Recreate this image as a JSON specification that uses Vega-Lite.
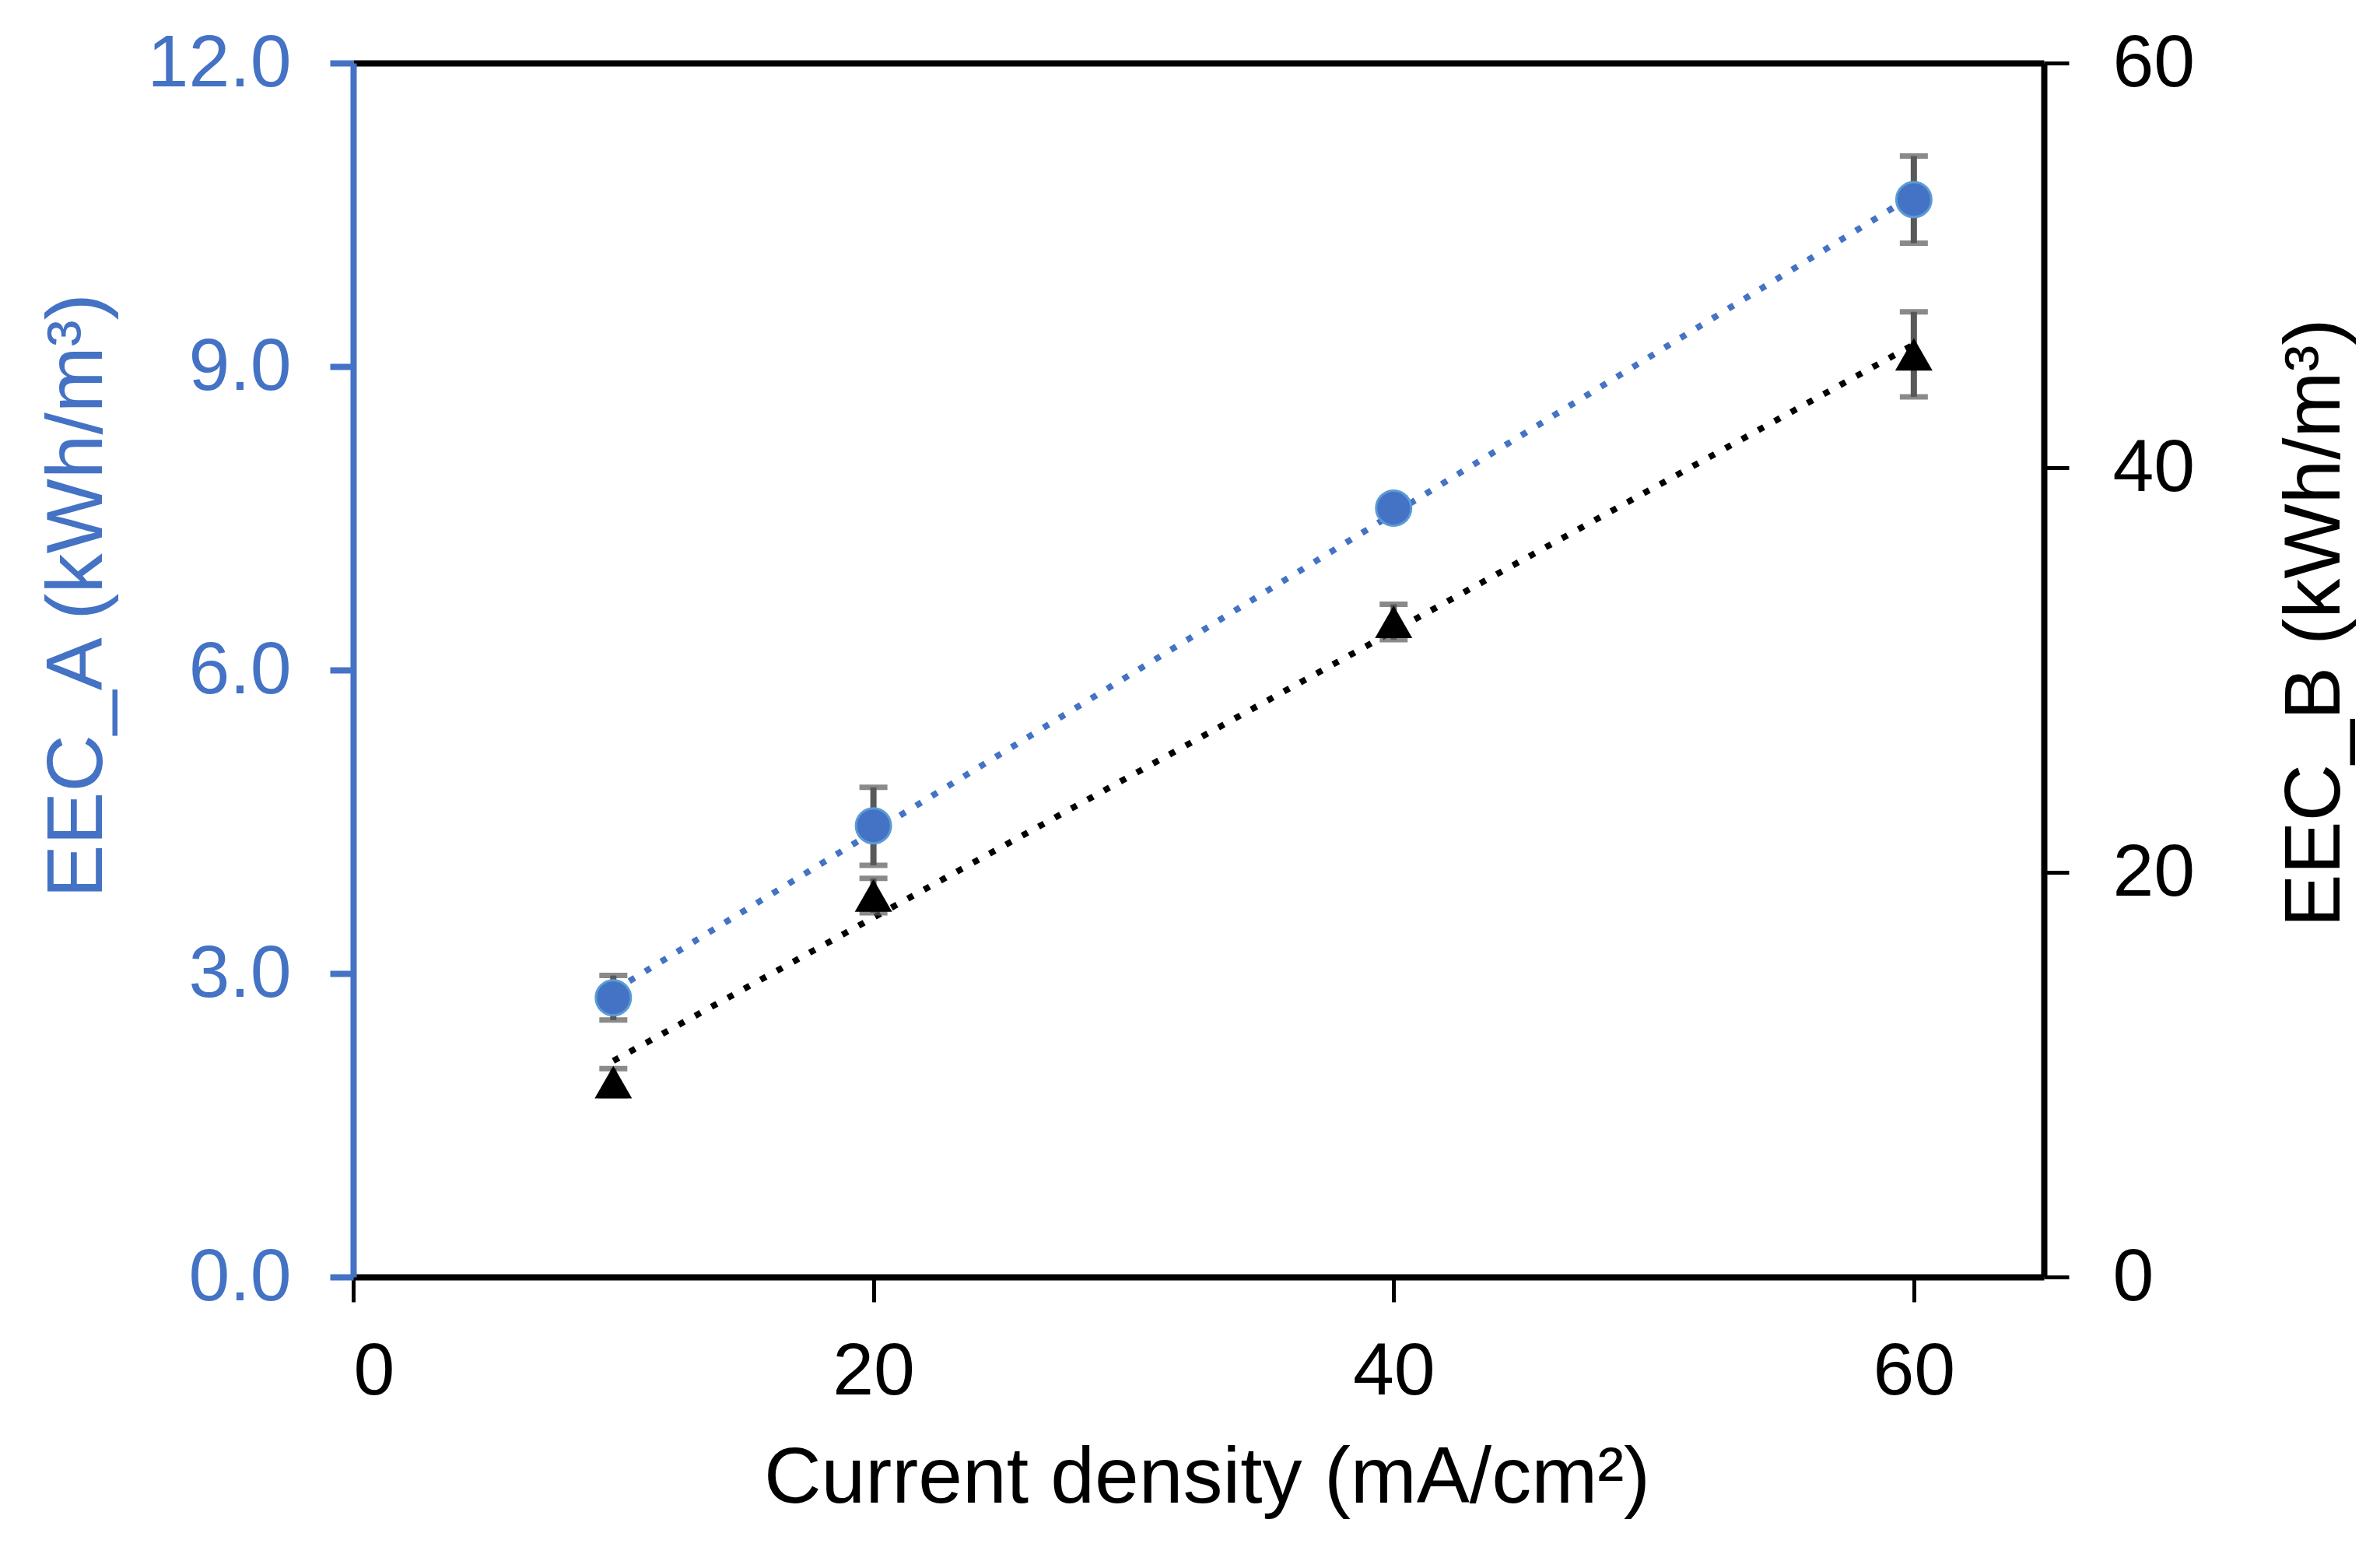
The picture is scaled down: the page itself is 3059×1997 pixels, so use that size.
{
  "$schema": "https://vega.github.io/schema/vega-lite/v6.json",
  "width": 2173,
  "height": 1560,
  "autosize": {"type": "none"},
  "padding": {"left": 454, "top": 81, "right": 432, "bottom": 356},
  "background": "white",
  "config": {
    "view": {"stroke": null},
    "font": "Liberation Sans",
    "axis": {"grid": false, "labelFont": "Liberation Sans", "titleFont": "Liberation Sans", "titleFontWeight": "normal", "labelFontSize": 95, "titleFontSize": 102, "labelLimit": 0, "titleLimit": 0}
  },
  "data": {
    "values": [
      {"I": 10, "A": 2.76, "A_lo": 2.54, "A_hi": 2.98, "B": 9.63, "B_lo": 8.96, "B_hi": 10.3},
      {"I": 20, "A": 4.46, "A_lo": 4.07, "A_hi": 4.84, "B": 18.85, "B_lo": 18.0, "B_hi": 19.7},
      {"I": 40, "A": 7.6, "A_lo": 7.5, "A_hi": 7.7, "B": 32.38, "B_lo": 31.5, "B_hi": 33.25},
      {"I": 60, "A": 10.65, "A_lo": 10.22, "A_hi": 11.08, "B": 45.6, "B_lo": 43.5, "B_hi": 47.7}
    ]
  },
  "layer": [
    {
      "encoding": {
        "x": {
          "field": "I", "type": "quantitative",
          "scale": {"domain": [0, 65], "nice": false, "zero": false},
          "axis": {
            "orient": "bottom",
            "values": [0, 20, 40, 60], "title": "Current density (mA/cm²)",
            "domainColor": "black", "domainWidth": 8,
            "tickColor": "black", "tickWidth": 5, "tickSize": 32,
            "labelColor": "black", "labelPadding": 43,
            "titleColor": "black", "titleBaseline": "alphabetic", "titleY": 289, "titleX": 1097
          }
        },
        "y": {
          "field": "A", "type": "quantitative",
          "scale": {"domain": [0, 12], "nice": false, "zero": true},
          "axis": {
            "orient": "left", "values": [0, 3, 6, 9, 12], "format": ".1f",
            "title": "EEC_A (kWh/m³)",
            "domainColor": "#4472C4", "domainWidth": 8,
            "tickColor": "#4472C4", "tickWidth": 8, "tickSize": 30,
            "labelColor": "#4472C4", "labelPadding": 50,
            "titleColor": "#4472C4", "titleAngle": 270, "titleBaseline": "alphabetic",
            "titleX": -324, "titleY": 684
          }
        }
      },
      "layer": [
        {
          "transform": [{"regression": "A", "on": "I", "extent": [10, 60]}],
          "mark": {"type": "line", "color": "#4472C4", "strokeWidth": 8, "strokeDash": [8, 16], "strokeCap": "butt"}
        },
        {
          "mark": {"type": "rule", "color": "#595959", "strokeWidth": 8},
          "encoding": {"y": {"field": "A_lo", "type": "quantitative"}, "y2": {"field": "A_hi"}}
        },
        {
          "mark": {"type": "tick", "orient": "horizontal", "color": "#595959", "size": 36, "thickness": 7},
          "encoding": {"y": {"field": "A_lo", "type": "quantitative"}}
        },
        {
          "mark": {"type": "tick", "orient": "horizontal", "color": "#595959", "size": 36, "thickness": 7},
          "encoding": {"y": {"field": "A_hi", "type": "quantitative"}}
        },
        {
          "mark": {"type": "point", "shape": "circle", "filled": true, "fill": "#4472C4", "stroke": "#5B9BD5", "strokeWidth": 3, "size": 2025, "opacity": 1}
        }
      ]
    },
    {
      "encoding": {
        "x": {
          "field": "I", "type": "quantitative",
          "scale": {"domain": [0, 65], "nice": false, "zero": false},
          "axis": {
            "orient": "top", "title": null, "labels": false, "ticks": false,
            "domainColor": "black", "domainWidth": 8
          }
        },
        "y": {
          "field": "B", "type": "quantitative",
          "scale": {"domain": [0, 60], "nice": false, "zero": true},
          "axis": {
            "orient": "right", "values": [0, 20, 40, 60],
            "title": "EEC_B (kWh/m³)",
            "domainColor": "black", "domainWidth": 8,
            "tickColor": "black", "tickWidth": 5, "tickSize": 32,
            "labelColor": "black", "labelPadding": 56,
            "titleColor": "black", "titleAngle": 270, "titleBaseline": "alphabetic",
            "titleX": 379, "titleY": 719
          }
        }
      },
      "layer": [
        {
          "transform": [{"regression": "B", "on": "I", "extent": [10, 60]}],
          "mark": {"type": "line", "color": "black", "strokeWidth": 8, "strokeDash": [8, 16], "strokeCap": "butt"}
        },
        {
          "mark": {"type": "rule", "color": "#595959", "strokeWidth": 8},
          "encoding": {"y": {"field": "B_lo", "type": "quantitative"}, "y2": {"field": "B_hi"}}
        },
        {
          "mark": {"type": "tick", "orient": "horizontal", "color": "#595959", "size": 36, "thickness": 7},
          "encoding": {"y": {"field": "B_lo", "type": "quantitative"}}
        },
        {
          "mark": {"type": "tick", "orient": "horizontal", "color": "#595959", "size": 36, "thickness": 7},
          "encoding": {"y": {"field": "B_hi", "type": "quantitative"}}
        },
        {
          "mark": {"type": "point", "shape": "triangle-up", "filled": true, "fill": "black", "strokeWidth": 0, "size": 2304, "opacity": 1}
        }
      ]
    }
  ],
  "resolve": {"scale": {"y": "independent"}, "axis": {"y": "independent", "x": "independent"}}
}
